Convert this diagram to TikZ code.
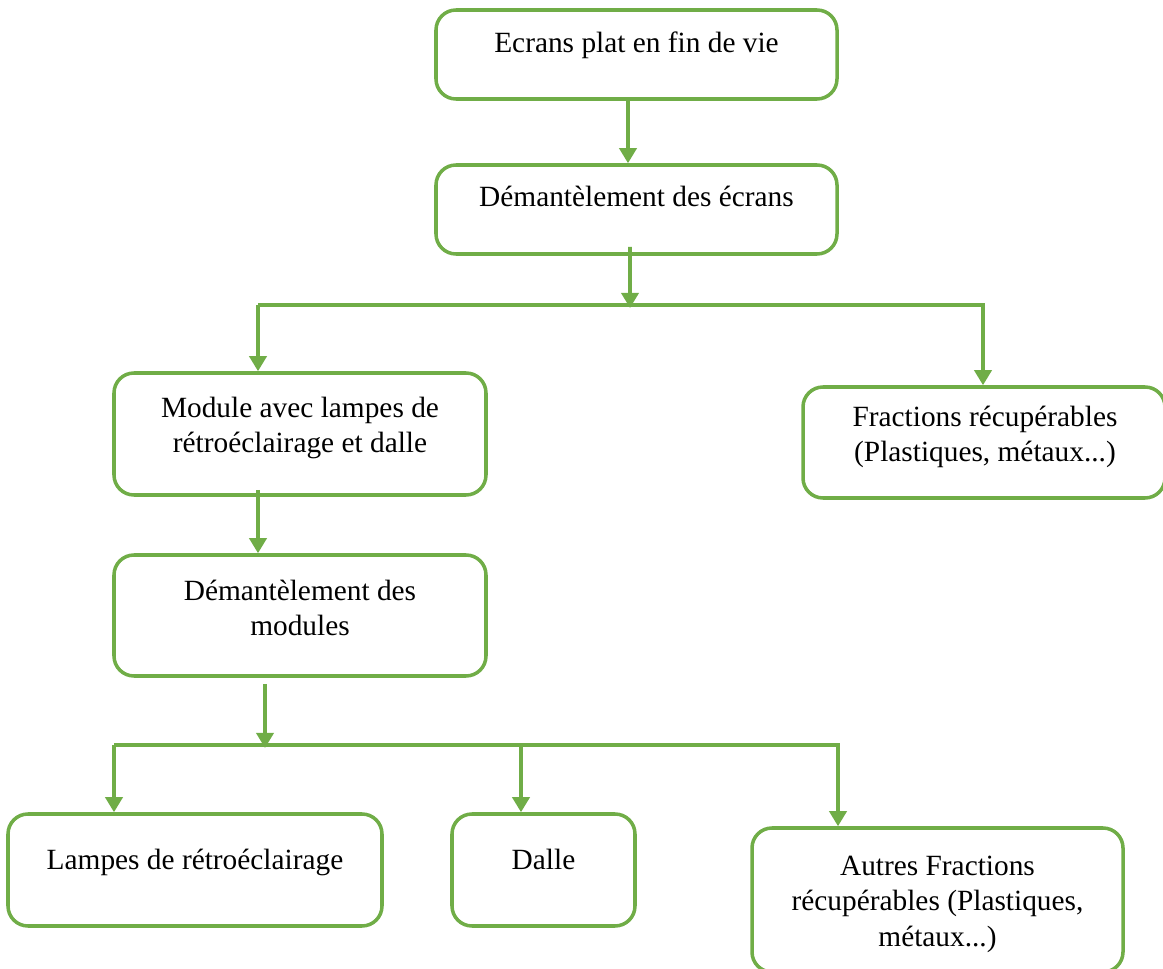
\documentclass[tikz,border=0pt]{standalone}
\usepackage{fontspec}
\setmainfont{Liberation Serif}
\usepackage{xcolor}
\usetikzlibrary{arrows.meta, positioning}
\definecolor{vert}{HTML}{70AD47}

\begin{document}
\begin{tikzpicture}[
        box/.style={rectangle, rounded corners=0.4cm, draw=vert, line width=2pt, inner sep=0pt},
        txt/.style={anchor=base, align=center, inner sep=0pt, font=\fontsize{16.7}{20}\selectfont},
        link/.style={draw=vert, line width=2pt},
        arrow/.style={link, -{Triangle[length=0.3cm, width=0.34cm]}}
    ]
    \useasboundingbox (0,0) rectangle (23.26,-19.38);

    \node (ecrans) [box, minimum width=8.02cm, minimum height=1.78cm] at (12.73,-1.09) {};
    \node (ecrans-t) [txt] at (12.73,-1.06) {Ecrans plat en fin de vie};
    \node (demecr) [box, minimum width=8.02cm, minimum height=1.78cm] at (12.73,-4.19) {};
    \node (demecr-t) [txt] at (12.73,-4.14) {Démantèlement des écrans};

    \node (module) [box, minimum width=7.44cm, minimum height=2.44cm] at (6.0,-8.68) {};
    \node (module-t) [txt] at (6.0,-9.06) {Module avec lampes de\\rétroéclairage et dalle};
    \node (fract) [box, minimum width=7.24cm, minimum height=2.22cm] at (19.68,-8.85) {};
    \node (fract-t) [txt] at (19.7,-9.24) {Fractions récupérables\\(Plastiques, métaux...)};

    \node (demmod) [box, minimum width=7.44cm, minimum height=2.42cm] at (6.0,-12.31) {};
    \node (demmod-t) [txt] at (6.0,-12.72) {Démantèlement des\\modules};

    \node (lampes) [box, minimum width=7.48cm, minimum height=2.24cm] at (3.9,-17.4) {};
    \node (lampes-t) [txt] at (3.9,-17.38) {Lampes de rétroéclairage};
    \node (dalle) [box, minimum width=3.66cm, minimum height=2.24cm] at (10.87,-17.4) {};
    \node (dalle-t) [txt] at (10.87,-17.38) {Dalle};
    \node (autres) [box, minimum width=7.42cm, minimum height=2.88cm] at (18.75,-18.0) {};
    \node (autres-t) [txt] at (18.75,-18.92) {Autres Fractions\\récupérables (Plastiques,\\métaux...)};

    % first split
    \coordinate (split1) at (12.6,-6.1);
    \coordinate (b1) at (5.16,-6.1);
    \coordinate (b2) at (19.66,-6.1);
    % second split
    \coordinate (split2) at (5.3,-14.9);
    \coordinate (c1) at (2.28,-14.9);
    \coordinate (c2) at (10.42,-14.9);
    \coordinate (c3) at (16.76,-14.9);

    \draw[arrow] ([xshift=-0.17cm]ecrans.south) -- ([xshift=-0.17cm]demecr.north);
    \draw[arrow] ([xshift=-0.13cm,yshift=0.18cm]demecr.south) -- ([yshift=-0.06cm]split1);
    \draw[link] (b1) -- ([xshift=0.04cm]b2);
    \draw[arrow] (b1) -- (b1 |- module.north);
    \draw[arrow] (b2) -- (b2 |- fract.north);

    \draw[arrow] ([xshift=-0.84cm,yshift=0.14cm]module.south) -- ([xshift=-0.84cm]demmod.north);
    \draw[arrow] ([xshift=-0.7cm,yshift=-0.12cm]demmod.south) -- ([yshift=-0.06cm]split2);
    \draw[link] (c1) -- ([xshift=0.04cm]c3);
    \draw[arrow] (c1) -- (c1 |- lampes.north);
    \draw[arrow] (c2) -- (c2 |- dalle.north);
    \draw[arrow] (c3) -- (c3 |- autres.north);

\end{tikzpicture}
\end{document}
